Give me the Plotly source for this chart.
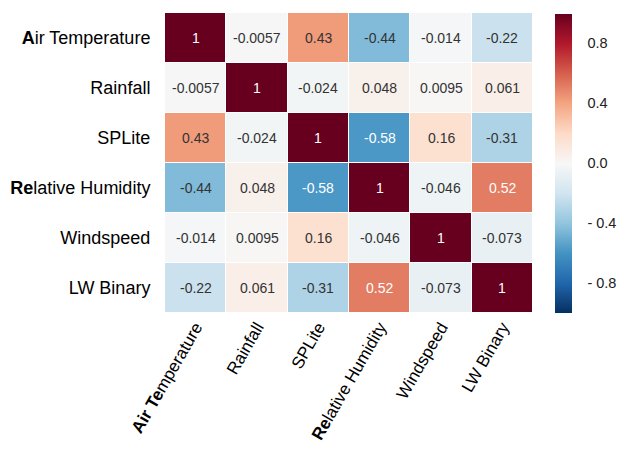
import plotly.graph_objects as go
import plotly.express as px

# Variables of the correlation matrix (x and y share the same order)
variables = ["Air Temperature", "Rainfall", "SPLite", "Relative Humidity", "Windspeed", "LW Binary"]
y_labels = ["<b>A</b>ir Temperature", "Rainfall", "SPLite", "<b>Re</b>lative Humidity", "Windspeed", "LW Binary"]
x_labels = ["<b>Air Te</b>mperature", "Rainfall", "SPLite", "<b>Re</b>lative Humidity", "Windspeed", "LW Binary"]

# Pairwise correlation coefficients
air_temperature = [1, -0.0057, 0.43, -0.44, -0.014, -0.22]
rainfall = [-0.0057, 1, -0.024, 0.048, 0.0095, 0.061]
splite = [0.43, -0.024, 1, -0.58, 0.16, -0.31]
relative_humidity = [-0.44, 0.048, -0.58, 1, -0.046, 0.52]
windspeed = [-0.014, 0.0095, 0.16, -0.046, 1, -0.073]
lw_binary = [-0.22, 0.061, -0.31, 0.52, -0.073, 1]

corr = [air_temperature, rainfall, splite, relative_humidity, windspeed, lw_binary]

# Colour bar ticks
cbar_vals = [0.8, 0.4, 0.0, -0.4, -0.8]
cbar_text = ["0.8", "0.4", "0.0", "- 0.4", "- 0.8"]

FONT = "Liberation Sans, Arial, sans-serif"

fig = go.Figure(
    go.Heatmap(
        z=corr,
        x=variables,
        y=variables,
        zmin=-1,
        zmax=1,
        colorscale=px.colors.diverging.RdBu_r,
        xgap=1,
        ygap=1,
        colorbar=dict(
            thickness=17,
            lenmode="pixels",
            len=299,
            x=1.06,
            xanchor="left",
            xpad=0,
            y=0.5,
            yanchor="middle",
            ypad=0,
            outlinewidth=0,
            tickvals=cbar_vals,
            ticktext=cbar_text,
            ticks="outside",
            ticklen=13,
            tickcolor="rgba(0,0,0,0)",
            tickfont=dict(family=FONT, size=14.5, color="#222"),
        ),
        hoverinfo="skip",
    )
)

# Value labels in each cell; white text on the strongly coloured cells
for i, row in enumerate(corr):
    for j, v in enumerate(row):
        fig.add_annotation(
            x=variables[j],
            y=variables[i],
            text=f"{v:g}",
            showarrow=False,
            font=dict(
                family=FONT,
                size=14,
                color="white" if abs(v) > 0.5 else "#333333",
            ),
        )

fig.update_layout(
    width=617,
    height=450,
    margin=dict(l=165, r=84, t=13, b=137, autoexpand=False),
    paper_bgcolor="white",
    plot_bgcolor="white",
    font=dict(family=FONT, color="black"),
)
fig.update_xaxes(
    tickvals=variables,
    ticktext=x_labels,
    tickangle=-60,
    tickfont=dict(size=17),
    ticks="",
    showgrid=False,
    zeroline=False,
)
fig.update_yaxes(
    tickvals=variables,
    ticktext=y_labels,
    autorange="reversed",
    tickfont=dict(size=18),
    ticks="outside",
    ticklen=10,
    tickcolor="rgba(0,0,0,0)",
    showgrid=False,
    zeroline=False,
)

fig.write_html("out.html")
